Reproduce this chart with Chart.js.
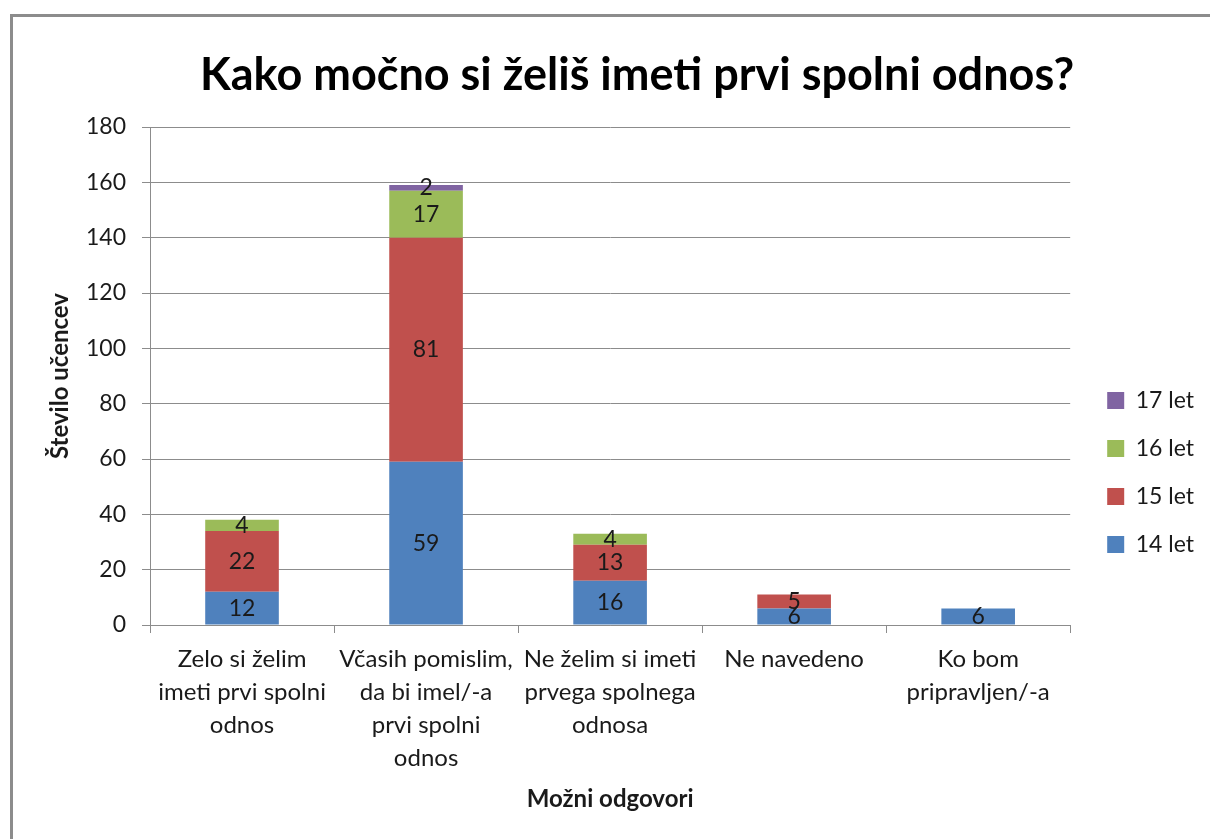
<!DOCTYPE html>
<html>
    <head>
        <meta charset="utf-8">
        <title>Kako močno si želiš imeti prvi spolni odnos?</title>
        <script src="https://cdn.jsdelivr.net/npm/chart.js@4.4.0/dist/chart.umd.min.js"></script>
        <style>
            html, body { margin: 0; padding: 0; background: #fff; overflow: hidden; width: 1210px; height: 839px; }
            #frame { position: absolute; left: 10px; top: 14px; width: 1300px; height: 900px;
                     border-left: 3px solid #8c8c8c; border-top: 3px solid #8c8c8c; }
            #chart { position: absolute; left: 13px; top: 17px; }
        </style>
    </head>
    <body>
        <div id="frame"></div>
        <canvas id="chart" width="1197" height="822"></canvas>

        <script>
            const categories = [
                ['Zelo si želim', 'imeti prvi spolni', 'odnos'],
                ['Včasih pomislim,', 'da bi imel/-a', 'prvi spolni', 'odnos'],
                ['Ne želim si imeti', 'prvega spolnega', 'odnosa'],
                ['Ne navedeno'],
                ['Ko bom', 'pripravljen/-a']
            ]
            const seriesNames = ['14 let', '15 let', '16 let', '17 let']
            const let14 = [12, 59, 16, 6, 6]
            const let15 = [22, 81, 13, 5, 0]
            const let16 = [4, 17, 4, 0, 0]
            const let17 = [0, 2, 0, 0, 0]
            const colors = ['#4f81bd', '#c0504d', '#9bbb59', '#8064a2']
            const yMin = 0, yMax = 180, yStep = 20

            const FONT = 'Lato, "Open Sans", sans-serif'
            const INK = '#1a1a1a'
            const GRID = '#8c8c8c'

            // numbers in the middle of each stacked piece
            const valueLabels = {
                id: 'valueLabels',
                afterDatasetsDraw(chart) {
                    const ctx = chart.ctx
                    ctx.save()
                    ctx.font = '23px ' + FONT
                    ctx.fillStyle = INK
                    ctx.textAlign = 'center'
                    ctx.textBaseline = 'middle'
                    chart.data.datasets.forEach((ds, i) => {
                        chart.getDatasetMeta(i).data.forEach((bar, j) => {
                            const v = ds.data[j]
                            if (!v) return
                            ctx.fillText(v, bar.x, (bar.y + bar.base) / 2)
                        })
                    })
                    ctx.restore()
                }
            }

            // push the legend down/right to where Excel put it
            const legendNudge = {
                id: 'legendNudge',
                afterLayout(chart) {
                    const lg = chart.legend
                    const dx = 12, dy = 237
                    lg.left += dx; lg.right += dx
                    lg.top += dy; lg.bottom += dy
                }
            }

            const ctx = document.getElementById('chart').getContext('2d')
            const datasets = [let14, let15, let16, let17].map((d, i) => ({
                label: seriesNames[i],
                data: d,
                backgroundColor: colors[i],
                borderWidth: 0,
                barPercentage: 0.4,
                categoryPercentage: 1.0
            }))

            new Chart(ctx, {
                type: 'bar',
                data: { labels: categories, datasets: datasets },
                plugins: [valueLabels, legendNudge],
                options: {
                    responsive: false,
                    animation: false,
                    layout: { padding: { left: 69, right: 18, top: 0, bottom: 0 } },
                    plugins: {
                        title: {
                            display: true,
                            text: 'Kako močno si želiš imeti prvi spolni odnos?',
                            color: '#000',
                            font: { family: FONT, size: 45, weight: 'bold' },
                            padding: { top: 31, bottom: 25 }
                        },
                        legend: {
                            position: 'right',
                            align: 'start',
                            fullSize: false,
                            reverse: true,
                            labels: {
                                color: INK,
                                font: { family: FONT, size: 23 },
                                boxWidth: 17,
                                boxHeight: 17,
                                padding: 25
                            }
                        },
                        tooltip: { enabled: false }
                    },
                    scales: {
                        x: {
                            stacked: true,
                            afterFit(scale) { scale.height = 214 },
                            grid: { drawOnChartArea: false, drawTicks: true, tickLength: 8, color: GRID },
                            border: { color: GRID, width: 1 },
                            ticks: {
                                color: INK,
                                font: { family: FONT, size: 24, lineHeight: 1.375 },
                                padding: 10,
                                maxRotation: 0,
                                autoSkip: false
                            },
                            title: {
                                display: true,
                                text: 'Možni odgovori',
                                color: INK,
                                font: { family: FONT, size: 24, weight: 'bold' },
                                padding: { top: 0, bottom: 25 }
                            }
                        },
                        y: {
                            stacked: true,
                            min: yMin,
                            max: yMax,
                            afterFit(scale) { scale.width = 68 },
                            grid: { color: GRID, drawTicks: true, tickLength: 8 },
                            border: { color: GRID, width: 1 },
                            ticks: {
                                stepSize: yStep,
                                color: INK,
                                font: { family: FONT, size: 23 },
                                padding: 16
                            },
                            title: {
                                display: true,
                                text: 'Število učencev',
                                color: INK,
                                font: { family: FONT, size: 24, weight: 'bold' },
                                padding: { top: -36, bottom: 0 }
                            }
                        }
                    }
                }
            })
        </script>
    </body>
</html>
